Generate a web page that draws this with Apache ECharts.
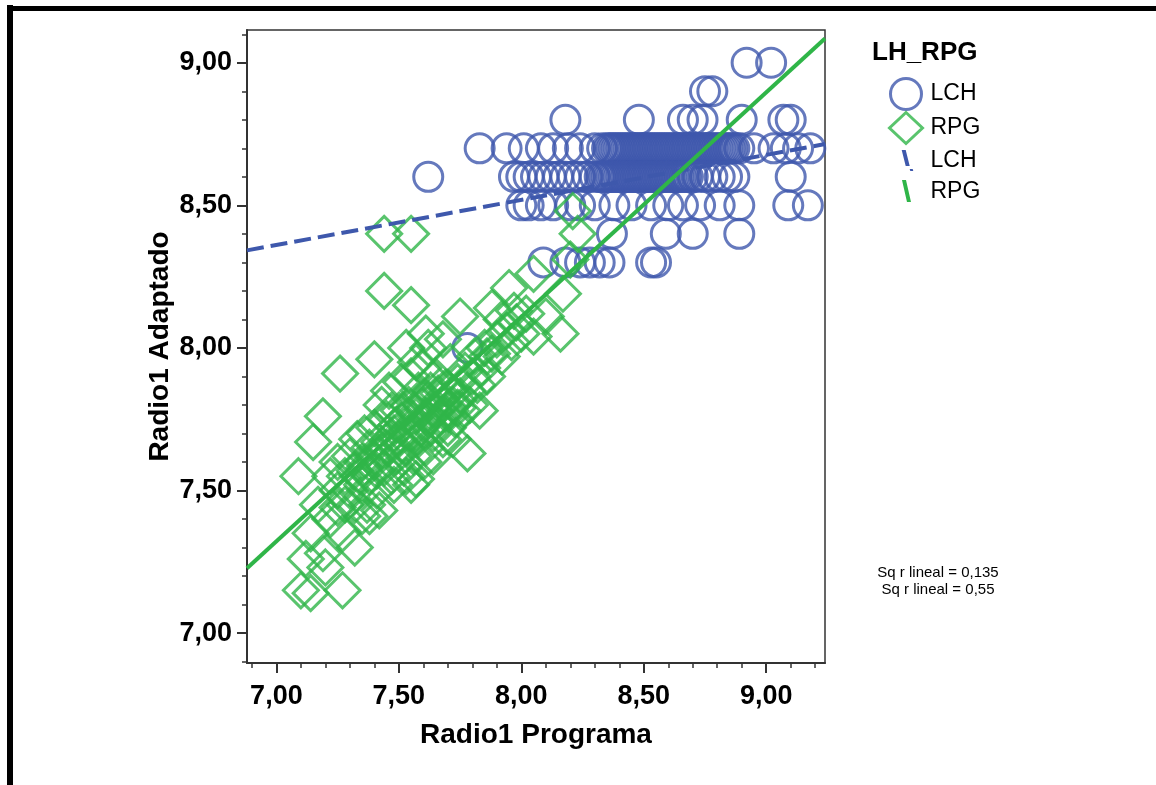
<!DOCTYPE html>
<html>
<head>
<meta charset="utf-8">
<title>Radio1 Programa vs Radio1 Adaptado</title>
<script src="https://cdn.jsdelivr.net/npm/echarts@6/dist/echarts.min.js"></script>
<style>
  html, body { margin: 0; padding: 0; background: #fff; }
  #chart { width: 1156px; height: 785px; }
</style>
</head>
<body>
<div id="chart"></div>
<script>
// ejes
var xRange = [6.88, 9.24];
var yRange = [6.895, 9.115];
var tickValues = [7.0, 7.5, 8.0, 8.5, 9.0];

// LCH: Radio1 Adaptado por filas (valor y) y sus Radio1 Programa (valores x)
var lchRowY = [9.0, 8.9, 8.8, 8.7, 8.6, 8.5, 8.4, 8.3, 8.0];
var lchRowX = [
    [8.92, 9.02],
    [8.75, 8.78],
    [8.18, 8.48, 8.66, 8.70, 8.74, 8.90, 9.07, 9.10],
    [7.83, 7.94, 8.01, 8.08, 8.13, 8.19, 8.24, 8.30, 8.33, 8.35, 8.36, 8.37, 8.38, 8.39,
     8.40, 8.41, 8.42, 8.43, 8.44, 8.45, 8.46, 8.47, 8.48, 8.49, 8.50, 8.51, 8.52, 8.53,
     8.54, 8.55, 8.56, 8.57, 8.58, 8.59, 8.60, 8.61, 8.62, 8.63, 8.64, 8.65, 8.66, 8.67,
     8.68, 8.69, 8.70, 8.71, 8.72, 8.73, 8.74, 8.75, 8.76, 8.77, 8.78, 8.79, 8.80, 8.81,
     8.82, 8.83, 8.84, 8.85, 8.86, 8.87, 8.89, 8.95, 9.03, 9.08, 9.13, 9.18],
    [7.62, 7.97, 8.00, 8.03, 8.06, 8.09, 8.12, 8.15, 8.18, 8.21, 8.24, 8.27, 8.30, 8.32,
     8.33, 8.34, 8.35, 8.36, 8.37, 8.38, 8.39, 8.40, 8.41, 8.42, 8.43, 8.44, 8.45, 8.46,
     8.47, 8.48, 8.49, 8.50, 8.51, 8.52, 8.53, 8.54, 8.55, 8.56, 8.57, 8.58, 8.59, 8.60,
     8.61, 8.62, 8.63, 8.64, 8.65, 8.66, 8.67, 8.68, 8.70, 8.72, 8.75, 8.78, 8.81, 8.84,
     8.87, 9.10],
    [8.00, 8.03, 8.08, 8.13, 8.20, 8.24, 8.30, 8.38, 8.45, 8.53, 8.60, 8.66, 8.73, 8.81,
     8.89, 9.09, 9.17],
    [8.37, 8.59, 8.70, 8.89],
    [8.09, 8.18, 8.24, 8.28, 8.32, 8.36, 8.53, 8.55],
    [7.78]
];

// RPG: pares [Radio1 Programa, Radio1 Adaptado]
var rpgPoints = [
    [7.44, 8.40], [7.55, 8.40], [7.44, 8.20], [7.55, 8.15], [7.75, 8.11],
    [7.26, 7.91], [7.40, 7.96], [7.53, 8.00], [7.61, 8.05], [7.68, 8.03],
    [7.19, 7.76], [7.15, 7.67], [7.09, 7.55], [7.78, 7.63],
    [7.35, 7.41], [7.32, 7.30], [7.14, 7.35], [7.12, 7.26], [7.19, 7.28],
    [7.10, 7.15], [7.14, 7.14], [7.27, 7.15], [7.25, 7.44], [7.20, 7.23],
    [7.95, 8.21], [8.05, 8.26], [8.17, 8.19], [8.10, 8.11], [8.05, 8.04],
    [8.16, 8.05], [7.88, 8.14], [7.86, 7.97], [8.20, 8.31], [8.23, 8.40],
    [8.21, 8.48], [7.57, 7.54], [7.38, 7.41],
    [7.22, 7.55], [7.25, 7.50], [7.25, 7.60], [7.28, 7.55], [7.30, 7.50],
    [7.30, 7.62], [7.32, 7.57], [7.33, 7.68], [7.35, 7.52], [7.35, 7.60],
    [7.36, 7.70], [7.38, 7.55], [7.38, 7.65], [7.40, 7.60], [7.40, 7.72],
    [7.41, 7.50], [7.42, 7.67], [7.43, 7.80], [7.44, 7.58], [7.45, 7.65],
    [7.45, 7.75], [7.46, 7.85], [7.47, 7.55], [7.48, 7.70], [7.49, 7.62],
    [7.50, 7.78], [7.50, 7.68], [7.51, 7.88], [7.52, 7.58], [7.52, 7.73],
    [7.53, 7.65], [7.54, 7.80], [7.55, 7.70], [7.55, 7.90], [7.56, 7.62],
    [7.57, 7.76], [7.58, 7.85], [7.58, 7.68], [7.59, 7.72], [7.60, 7.80],
    [7.60, 7.93], [7.61, 7.65], [7.62, 7.75], [7.63, 7.85], [7.64, 7.70],
    [7.65, 7.78], [7.65, 7.90], [7.66, 7.73], [7.67, 7.82], [7.68, 7.68],
    [7.69, 7.77], [7.70, 7.86], [7.70, 7.72], [7.71, 7.95], [7.72, 7.80],
    [7.73, 7.75], [7.74, 7.88], [7.75, 7.83], [7.76, 7.78], [7.77, 7.92],
    [7.78, 7.85], [7.79, 7.80], [7.80, 7.90], [7.81, 7.97], [7.82, 7.87],
    [7.84, 7.93], [7.85, 8.00], [7.86, 7.90], [7.88, 7.98], [7.90, 8.03],
    [7.92, 7.97], [7.94, 8.06], [7.96, 8.02], [7.98, 8.09], [8.00, 8.05],
    [8.02, 8.12], [7.37, 7.45], [7.42, 7.43], [7.48, 7.52], [7.53, 7.55],
    [7.60, 7.60], [7.57, 7.95], [7.62, 8.00], [7.28, 7.45], [7.32, 7.45],
    [7.27, 7.35], [7.22, 7.40], [7.17, 7.45], [7.55, 7.52], [7.64, 7.62],
    [7.72, 7.68], [7.83, 7.78], [7.92, 8.10], [7.97, 8.13],
    [7.46, 7.68], [7.47, 7.78], [7.49, 7.73], [7.51, 7.66], [7.53, 7.76],
    [7.54, 7.70], [7.56, 7.78], [7.57, 7.70], [7.59, 7.80], [7.61, 7.76],
    [7.62, 7.82], [7.63, 7.72], [7.64, 7.78], [7.66, 7.84], [7.67, 7.76],
    [7.68, 7.80], [7.69, 7.86], [7.71, 7.78], [7.72, 7.84], [7.74, 7.79],
    [7.36, 7.58], [7.39, 7.62], [7.41, 7.57], [7.43, 7.64], [7.34, 7.55]
];

// rectas de ajuste lineal: [intercepto, pendiente] y R cuadrado
var fitLCH = [7.255, 0.158];
var fitRPG = [1.813, 0.787];
var r2Values = ['0,135', '0,55'];

var blue = '#3e58ac';
var green = '#2fb548';
var font = 'Liberation Sans, Arial, sans-serif';

var lchData = [];
lchRowY.forEach(function (y, i) {
    lchRowX[i].forEach(function (x) { lchData.push([x, y]); });
});

function fitLine(fit) {
    return xRange.map(function (x) { return [x, fit[0] + fit[1] * x]; });
}

function fmt(v) {
    return v.toFixed(2).replace('.', ',');
}

var iconLCH = 'path://M0,0 L0.01,0 L0.01,0.01 Z M3,5 L7,5 L11,21 L7,21 Z M11,24 L14,24 L14.6,26 L11.6,26 Z M14,31 L14.01,31 L14.01,30.99 Z';
var iconRPG = 'path://M0,0 L0.01,0 L0.01,0.01 Z M3,4 L7,4 L12,26 L8,26 Z M14,31 L14.01,31 L14.01,30.99 Z';

var axisCommon = {
    type: 'value',
    nameLocation: 'middle',
    nameTextStyle: { fontSize: 28, fontWeight: 'bold', color: '#000', fontFamily: font },
    axisLine: { show: true, onZero: false, lineStyle: { color: '#333', width: 2 } },
    axisTick: { show: true, length: 10, customValues: tickValues, lineStyle: { color: '#333', width: 2 } },
    minorTick: { show: true, splitNumber: 5, length: 5, lineStyle: { color: '#333', width: 1.5 } },
    splitLine: { show: false },
    minorSplitLine: { show: false },
    splitNumber: 5
};

var myChart = echarts.init(document.getElementById('chart'), null, { renderer: 'canvas' });

var option = {
    backgroundColor: '#fff',
    animation: false,
    textStyle: { fontFamily: font },
    title: {
        text: 'LH_RPG',
        left: 872,
        top: 40,
        padding: 0,
        textStyle: { fontSize: 26, fontWeight: 'bold', color: '#000', fontFamily: font }
    },
    legend: {
        orient: 'vertical',
        left: 883,
        top: 72,
        itemWidth: 33,
        itemHeight: 31,
        itemGap: 0,
        selectedMode: false,
        formatter: function (name) { return name.trim(); },
        textStyle: { fontSize: 23, color: '#000', fontFamily: font, padding: [0, 0, 0, 3] },
        data: [
            { name: 'LCH', icon: 'circle', itemStyle: { borderWidth: 3 } },
            { name: 'RPG', icon: 'diamond', itemStyle: { borderWidth: 3 } },
            { name: 'LCH ', icon: iconLCH, itemStyle: { borderWidth: 0 } },
            { name: 'RPG ', icon: iconRPG, itemStyle: { borderWidth: 0 } }
        ]
    },
    grid: {
        left: 247,
        top: 30,
        right: 331,
        bottom: 122,
        show: true,
        borderColor: '#333',
        borderWidth: 1.5,
        backgroundColor: '#fff'
    },
    xAxis: Object.assign({}, axisCommon, {
        min: xRange[0],
        max: xRange[1],
        name: 'Radio1 Programa',
        nameGap: 58,
        axisLabel: {
            customValues: tickValues,
            formatter: fmt,
            margin: 20,
            fontSize: 27,
            fontWeight: 'bold',
            color: '#000',
            fontFamily: font
        }
    }),
    yAxis: Object.assign({}, axisCommon, {
        min: yRange[0],
        max: yRange[1],
        name: 'Radio1 Adaptado',
        nameGap: 73,
        axisLabel: {
            customValues: tickValues,
            formatter: fmt,
            margin: 15,
            fontSize: 27,
            fontWeight: 'bold',
            color: '#000',
            fontFamily: font
        }
    }),
    graphic: [
        { type: 'rect', shape: { x: 7, y: 6, width: 1149, height: 5 }, style: { fill: '#000' }, silent: true },
        { type: 'rect', shape: { x: 7, y: 5, width: 6, height: 780 }, style: { fill: '#000' }, silent: true },
        {
            type: 'text', silent: true,
            style: {
                x: 938, y: 573, text: 'Sq r lineal = ' + r2Values[0],
                fill: '#000', font: '15px ' + font, textAlign: 'center', textVerticalAlign: 'middle'
            }
        },
        {
            type: 'text', silent: true,
            style: {
                x: 938, y: 590, text: 'Sq r lineal = ' + r2Values[1],
                fill: '#000', font: '15px ' + font, textAlign: 'center', textVerticalAlign: 'middle'
            }
        }
    ],
    series: [
        {
            name: 'LCH',
            type: 'scatter',
            symbol: 'circle',
            symbolSize: 29,
            data: lchData,
            itemStyle: { color: 'rgba(0,0,0,0)', borderColor: blue, borderWidth: 3 }
        },
        {
            name: 'RPG',
            type: 'scatter',
            symbol: 'diamond',
            symbolSize: 35,
            data: rpgPoints,
            itemStyle: { color: 'rgba(0,0,0,0)', borderColor: green, borderWidth: 3 }
        },
        {
            name: 'LCH ',
            type: 'line',
            data: fitLine(fitLCH),
            symbol: 'none',
            color: blue,
            lineStyle: { color: blue, width: 4, type: [17, 7] }
        },
        {
            name: 'RPG ',
            type: 'line',
            data: fitLine(fitRPG),
            symbol: 'none',
            color: green,
            lineStyle: { color: green, width: 4 }
        }
    ]
};
myChart.setOption(option);
</script>
</body>
</html>
